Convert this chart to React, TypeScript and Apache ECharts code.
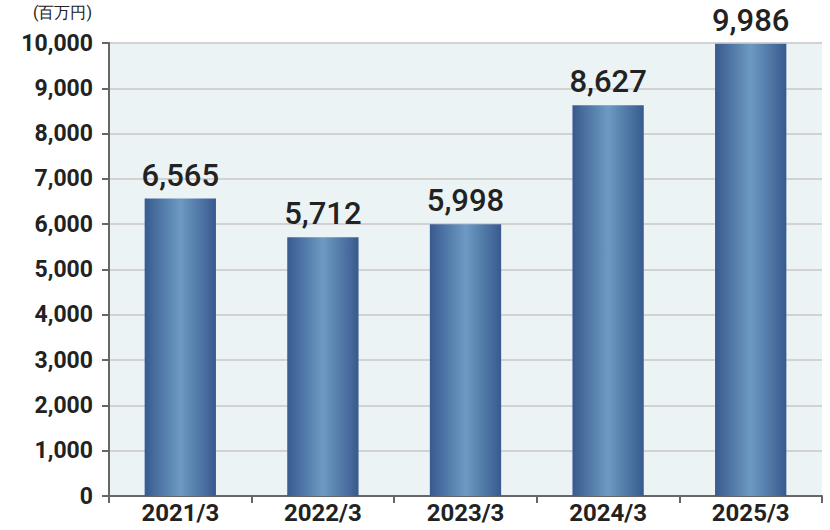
import React, { useEffect, useRef } from "react";
import * as echarts from "echarts";

const categories = ["2021/3", "2022/3", "2023/3", "2024/3", "2025/3"];
const values = [6565, 5712, 5998, 8627, 9986];
const unitLabel = "(百万円)";

export default function App() {
  const ref = useRef<HTMLDivElement>(null);
  useEffect(() => {
    if (!ref.current) return;
    const chart = echarts.init(ref.current, null, { renderer: "svg" });
    chart.setOption({
      animation: false,
      textStyle: { fontFamily: "Roboto" },
      grid: {
        left: 109,
        right: 8,
        top: 43,
        bottom: 34,
        show: true,
        backgroundColor: "#ebf3f5",
        borderWidth: 0,
      },
      graphic: [
        {
          type: "text",
          left: 33,
          top: 4,
          style: { text: unitLabel, fontSize: 16, fill: "#222", fontFamily: "Roboto" },
        },
      ],
      xAxis: {
        type: "category",
        data: categories,
        axisLine: { lineStyle: { color: "#666", width: 2 } },
        axisTick: { show: true, length: 7, lineStyle: { color: "#666", width: 2 } },
        axisLabel: { color: "#222", fontSize: 24, fontWeight: "bold", margin: 5 },
      },
      yAxis: {
        type: "value",
        min: 0,
        max: 10000,
        interval: 1000,
        axisLine: { show: true, lineStyle: { color: "#666", width: 2 } },
        axisTick: { show: true, length: 7, lineStyle: { color: "#666", width: 2 } },
        axisLabel: {
          color: "#222",
          fontSize: 23,
          fontWeight: "bold",
          margin: 16,
          formatter: (v: number) => v.toLocaleString("en-US"),
        },
        splitLine: { lineStyle: { color: "#d2d2d2", width: 2 } },
      },
      series: [
        {
          type: "bar",
          data: values,
          barWidth: "50%",
          itemStyle: {
            color: new echarts.graphic.LinearGradient(0, 0, 1, 0, [
              { offset: 0, color: "#385a8f" },
              { offset: 0.5, color: "#6d9ac2" },
              { offset: 1, color: "#385a8f" },
            ]),
          },
          label: {
            show: true,
            position: "top",
            distance: 8,
            color: "#222",
            fontSize: 31,
            fontWeight: 500,
            formatter: (p: any) => Number(p.value).toLocaleString("en-US"),
          },
        },
      ],
    });
    return () => chart.dispose();
  }, []);
  return (
    <div
      ref={ref}
      style={{ position: "absolute", left: 0, top: 0, width: 830, height: 530 }}
    />
  );
}
